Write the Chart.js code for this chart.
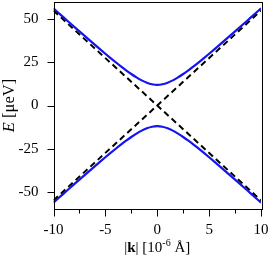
<!DOCTYPE html>
<html><head><meta charset="utf-8">
<script src="https://cdn.jsdelivr.net/npm/chart.js@4"></script>
<style>html,body{margin:0;padding:0;background:#fff}#wrap{width:270px;height:259px}</style>
</head><body><div id="wrap"><canvas id="c" width="270" height="259"></canvas></div>
<script>
const kValues = [-10,-9.5,-9,-8.5,-8,-7.5,-7,-6.5,-6,-5.5,-5,-4.5,-4,-3.5,-3,-2.5,-2,-1.5,-1,-0.5,0,0.5,1,1.5,2,2.5,3,3.5,4,4.5,5,5.5,6,6.5,7,7.5,8,8.5,9,9.5,10];
const upperBand = [56.29,53.61,50.93,48.27,45.61,42.96,40.33,37.71,35.11,32.54,30.00,27.51,25.06,22.68,20.40,18.25,16.28,14.56,13.20,12.31,12.00,12.31,13.20,14.56,16.28,18.25,20.40,22.68,25.06,27.51,30.00,32.54,35.11,37.71,40.33,42.96,45.61,48.27,50.93,53.61,56.29];
const lowerBand = [-56.29,-53.61,-50.93,-48.27,-45.61,-42.96,-40.33,-37.71,-35.11,-32.54,-30.00,-27.51,-25.06,-22.68,-20.40,-18.25,-16.28,-14.56,-13.20,-12.31,-12.00,-12.31,-13.20,-14.56,-16.28,-18.25,-20.40,-22.68,-25.06,-27.51,-30.00,-32.54,-35.11,-37.71,-40.33,-42.96,-45.61,-48.27,-50.93,-53.61,-56.29];
const dashK = [-10, 10];
const dashRising = [-55, 55];
const dashFalling = [55, -55];
const xTicks = [-10,-5,0,5,10];
const xMinorTicks = [-7.5,-2.5,2.5,7.5];
const yTicks = [-50,-25,0,25,50];

const pts = (xs, ys) => xs.map((x,i)=>({x:x, y:ys[i]}));
const FONT = "'Liberation Serif', 'DejaVu Serif', serif";

const framePlugin = {
  id:'frame',
  afterDraw(chart){
    const ctx = chart.ctx, a = chart.chartArea;
    const xs = chart.scales.x, ys = chart.scales.y;
    ctx.save();
    ctx.strokeStyle = '#000'; ctx.lineWidth = 1;
    ctx.strokeRect(Math.round(a.left)+0.5, Math.round(a.top)+0.5, Math.round(a.right-a.left), Math.round(a.bottom-a.top));
    ctx.beginPath();
    const by = Math.round(a.bottom)+0.5;
    xTicks.forEach(v=>{const px=Math.round(xs.getPixelForValue(v))+0.5; ctx.moveTo(px,by); ctx.lineTo(px,by+7);});
    xMinorTicks.forEach(v=>{const px=Math.round(xs.getPixelForValue(v))+0.5; ctx.moveTo(px,by); ctx.lineTo(px,by+4);});
    const lx = Math.round(a.left)+0.5;
    yTicks.forEach(v=>{const py=Math.round(ys.getPixelForValue(v))+0.5; ctx.moveTo(lx,py); ctx.lineTo(lx-7,py);});
    ctx.stroke();
    ctx.fillStyle = '#000';
    ctx.textBaseline = 'alphabetic';
    const yParts = [['E','italic 16.5px '+FONT],[' [\u03BCeV]','16.5px '+FONT]];
    let w = 0; yParts.forEach(p=>{ctx.font=p[1]; w+=ctx.measureText(p[0]).width;});
    ctx.save();
    ctx.translate(14, (a.top+a.bottom)/2);
    ctx.rotate(-Math.PI/2);
    let cx = -w/2;
    yParts.forEach(p=>{ctx.font=p[1]; ctx.textAlign='left'; ctx.fillText(p[0],cx,0); cx+=ctx.measureText(p[0]).width;});
    ctx.restore();
    const xParts = [['|','15px '+FONT,0],['k','bold 15px '+FONT,0],['| [10','15px '+FONT,0],['-6','10px '+FONT,-6],[' \u00C5]','15px '+FONT,0]];
    w = 0; xParts.forEach(p=>{ctx.font=p[1]; w+=ctx.measureText(p[0]).width;});
    cx = (a.left+a.right)/2 - w/2;
    const base = 252;
    xParts.forEach(p=>{ctx.font=p[1]; ctx.textAlign='left'; ctx.fillText(p[0],cx,base+p[2]); cx+=ctx.measureText(p[0]).width;});
    ctx.restore();
  }
};

new Chart(document.getElementById('c'), {
  type:'line',
  data:{datasets:[
    {data:pts(dashK,dashRising), borderColor:'#000', borderWidth:2, borderDash:[6,4], pointRadius:0, fill:false, tension:0},
    {data:pts(dashK,dashFalling), borderColor:'#000', borderWidth:2, borderDash:[6,4], pointRadius:0, fill:false, tension:0},
    {data:pts(kValues,upperBand), borderColor:'#1414f0', borderWidth:2.2, pointRadius:0, fill:false, cubicInterpolationMode:'monotone'},
    {data:pts(kValues,lowerBand), borderColor:'#1414f0', borderWidth:2.2, pointRadius:0, fill:false, cubicInterpolationMode:'monotone'}
  ]},
  options:{
    responsive:false, animation:false, devicePixelRatio:1,
    layout:{padding:{left:0,right:9,top:2,bottom:0}, autoPadding:false},
    plugins:{legend:{display:false}, tooltip:{enabled:false}, title:{display:false}},
    scales:{
      x:{type:'linear', min:-10, max:10,
        afterBuildTicks:s=>{s.ticks = xTicks.map(v=>({value:v}));},
        afterFit:s=>{s.height = 50; s.paddingLeft=0; s.paddingRight=0;},
        grid:{display:false, drawTicks:false}, border:{display:false},
        ticks:{padding:12, color:'#000', font:{family:FONT, size:15}, maxRotation:0, autoSkip:false}},
      y:{type:'linear', min:-60, max:60,
        afterBuildTicks:s=>{s.ticks = yTicks.map(v=>({value:v}));},
        afterFit:s=>{s.width = 53.5; s.paddingTop=0; s.paddingBottom=0;},
        grid:{display:false, drawTicks:false}, border:{display:false},
        ticks:{padding:15, color:'#000', font:{family:FONT, size:15}, autoSkip:false}}
    }
  },
  plugins:[framePlugin]
});
</script></body></html>
